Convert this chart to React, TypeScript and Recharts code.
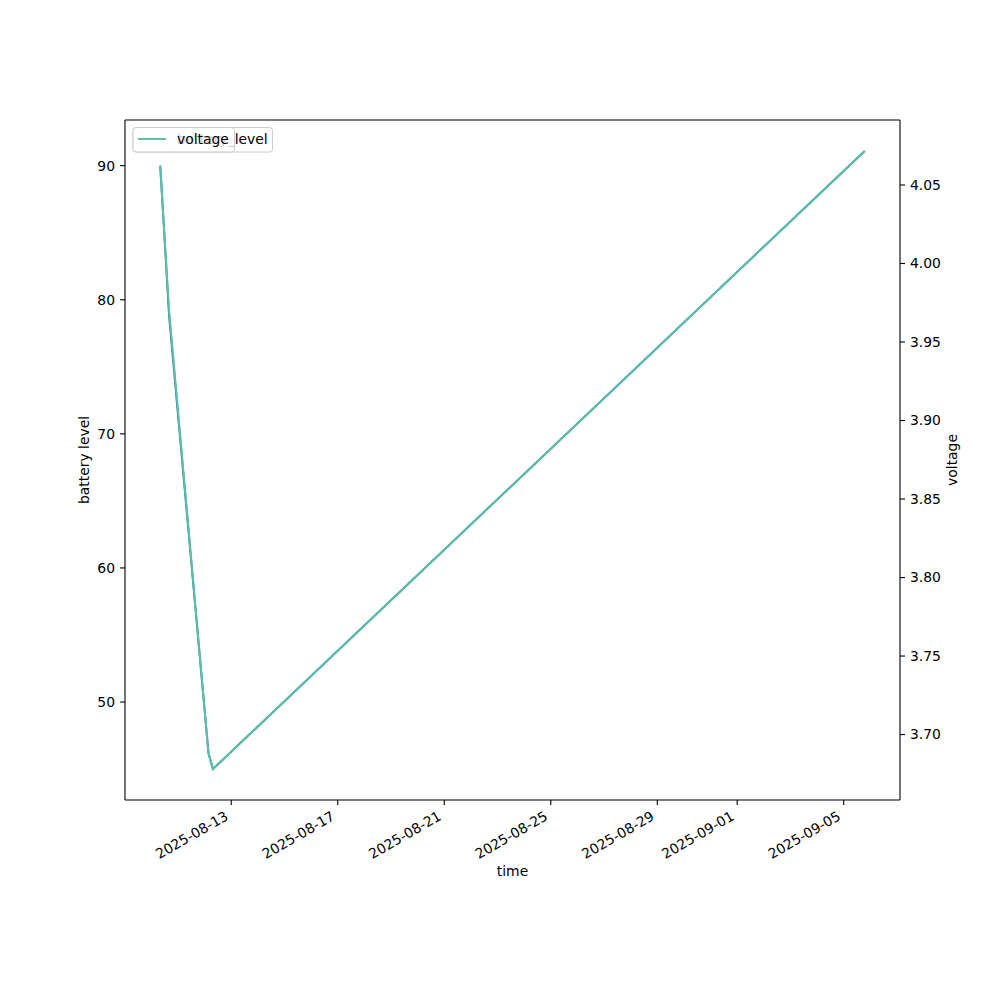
import React from "react";
import { LineChart, Line, XAxis, YAxis } from "recharts";

const TIMES = ["2025-08-10T08:00", "2025-08-10T16:00", "2025-08-12T03:30", "2025-08-12T07:30", "2025-09-05T19:00"];
const BATTERY = [90, 78.8, 46.2, 45, 91.1];
const VOLTAGE = [4.062, 3.97, 3.688, 3.678, 4.0717];
const X_TICKS = ["2025-08-13", "2025-08-17", "2025-08-21", "2025-08-25", "2025-08-29", "2025-09-01", "2025-09-05"];
const BATTERY_TICKS = [50, 60, 70, 80, 90];
const VOLTAGE_TICKS = [3.7, 3.75, 3.8, 3.85, 3.9, 3.95, 4.0, 4.05];

const BLUE = "#1f77b4";
const TEAL = "#5ebfa6";
const FONT = "'DejaVu Sans', sans-serif";
const FS = 13.9;

const toMs = (s: string) => Date.parse(s.length > 10 ? s + ":00Z" : s + "T00:00:00Z");

const data = TIMES.map((t, i) => ({ t: toMs(t), battery: BATTERY[i], voltage: VOLTAGE[i] }));

const pad = (vals: number[]): [number, number] => {
  const lo = Math.min(...vals);
  const hi = Math.max(...vals);
  const m = (hi - lo) * 0.05;
  return [lo - m, hi + m];
};

const xDomain = pad(data.map((d) => d.t));
const leftDomain = pad(BATTERY);
const rightDomain = pad(VOLTAGE);

const fmtDate = (ms: number) => new Date(ms).toISOString().slice(0, 10);

const DateTick = (props: any) => {
  const { x, y, payload } = props;
  const ax = x - 2;
  const ay = y + 9;
  return (
    <text
      x={ax}
      y={ay}
      textAnchor="end"
      transform={`rotate(-30, ${ax}, ${ay})`}
      fontFamily={FONT}
      fontSize={FS}
      fill="#000"
    >
      {fmtDate(payload.value)}
    </text>
  );
};

const tickStyle = { fontFamily: FONT, fontSize: FS, fill: "#000" };
const axisStroke = { stroke: "#000", strokeWidth: 1.1 };

export default function App() {
  return (
    <div style={{ position: "relative", width: 1000, height: 1000 }}>
      <style>{"body{margin:0}"}</style>
      <LineChart
        width={1000}
        height={1000}
        data={data}
        margin={{ top: 119, right: 40, bottom: 120, left: 65 }}
      >
        <XAxis
          dataKey="t"
          type="number"
          domain={xDomain}
          allowDataOverflow
          ticks={X_TICKS.map(toMs)}
          tick={<DateTick />}
          tickSize={5}
          tickMargin={5}
          height={80}
          axisLine={axisStroke}
          tickLine={axisStroke}
          interval={0}
          label={{ value: "time", position: "insideBottom", offset: 4, style: { ...tickStyle, textAnchor: "middle" } }}
        />
        <XAxis
          xAxisId="top"
          orientation="top"
          dataKey="t"
          type="number"
          domain={xDomain}
          allowDataOverflow
          height={1}
          tick={false}
          tickLine={false}
          axisLine={axisStroke}
        />
        <YAxis
          yAxisId="left"
          domain={leftDomain}
          allowDataOverflow
          ticks={BATTERY_TICKS}
          width={60}
          tickSize={5}
          tickMargin={5}
          tick={tickStyle}
          axisLine={axisStroke}
          tickLine={axisStroke}
          interval={0}
          label={{ value: "battery level", angle: -90, position: "insideLeft", offset: 19, style: { ...tickStyle, textAnchor: "middle" } }}
        />
        <YAxis
          yAxisId="right"
          orientation="right"
          domain={rightDomain}
          allowDataOverflow
          ticks={VOLTAGE_TICKS}
          tickFormatter={(v: number) => v.toFixed(2)}
          width={60}
          tickSize={5}
          tickMargin={5}
          tick={tickStyle}
          axisLine={axisStroke}
          tickLine={axisStroke}
          interval={0}
          label={{ value: "voltage", angle: -90, position: "insideRight", offset: 8, style: { ...tickStyle, textAnchor: "middle" } }}
        />
        <Line
          yAxisId="left"
          dataKey="battery"
          type="linear"
          stroke={BLUE}
          strokeWidth={2}
          dot={false}
          isAnimationActive={false}
        />
        <Line
          yAxisId="right"
          dataKey="voltage"
          type="linear"
          stroke={TEAL}
          strokeWidth={2}
          dot={false}
          isAnimationActive={false}
        />
      </LineChart>
      <svg width={1000} height={1000} style={{ position: "absolute", left: 0, top: 0, pointerEvents: "none" }}>
        <rect x={133} y={127.5} width={139.5} height={24.5} rx={3} fill="rgba(255,255,255,0.8)" stroke="#cccccc" />
        <line x1={138} x2={166} y1={139} y2={139} stroke={BLUE} strokeWidth={2} />
        <text x={177} y={144} fontFamily={FONT} fontSize={FS} fill="#000">battery_level</text>
        <rect x={133} y={127.5} width={101.5} height={24.5} rx={3} fill="rgba(255,255,255,0.8)" stroke="#cccccc" />
        <line x1={138} x2={166} y1={139} y2={139} stroke={TEAL} strokeWidth={2} />
        <text x={177} y={144} fontFamily={FONT} fontSize={FS} fill="#000">voltage</text>
      </svg>
    </div>
  );
}
